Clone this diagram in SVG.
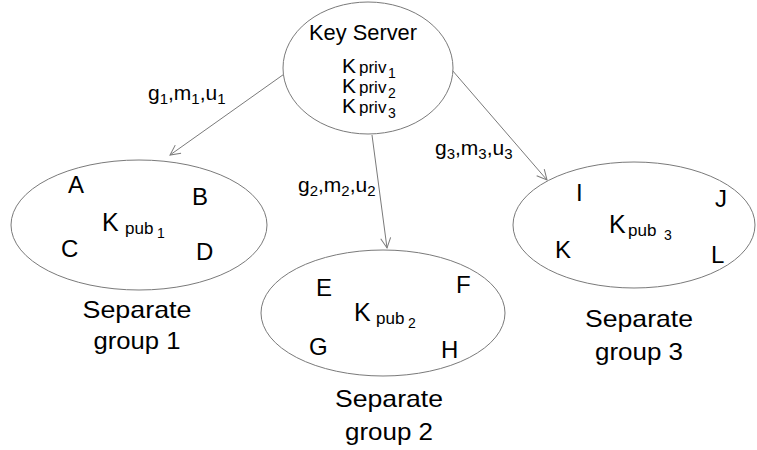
<svg xmlns="http://www.w3.org/2000/svg" width="757" height="450" viewBox="0 0 757 450">
<defs>
<style>
.ell{fill:#fff;stroke:#7a7a7a;stroke-width:1}
.con{stroke:#7a7a7a;stroke-width:1;fill:none;marker-end:url(#arr)}
text{font-family:"Liberation Sans",Arial,sans-serif;fill:#000}
.t{font-size:22px}
.lbl{font-size:24px;text-anchor:middle}
.let{font-size:24px}
.bk{font-size:25px}
.pk{font-size:21px}
.sm{font-size:17px}
.sub{font-size:14px}
.el{font-size:21px}
.es{font-size:15px}
</style>
<marker id="arr" viewBox="0 0 12 12" refX="11" refY="6" markerWidth="12" markerHeight="12" markerUnits="userSpaceOnUse" orient="auto">
<path d="M1,1 L11,6 L1,11" fill="none" stroke="#7a7a7a" stroke-width="1"/>
</marker>
</defs>
<rect width="757" height="450" fill="#fff"/>
<g id="connectors">
<line class="con" x1="287" y1="72" x2="170" y2="155"/>
<line class="con" x1="372" y1="135" x2="387" y2="248"/>
<line class="con" x1="452" y1="70" x2="547" y2="180"/>
<text class="el" x="148" y="100">g<tspan class="es" dy="4">1</tspan><tspan dy="-4">,m</tspan><tspan class="es" dy="4">1</tspan><tspan dy="-4">,u</tspan><tspan class="es" dy="4">1</tspan></text>
<text class="el" x="298" y="192">g<tspan class="es" dy="4">2</tspan><tspan dy="-4">,m</tspan><tspan class="es" dy="4">2</tspan><tspan dy="-4">,u</tspan><tspan class="es" dy="4">2</tspan></text>
<text class="el" x="435" y="155">g<tspan class="es" dy="4">3</tspan><tspan dy="-4">,m</tspan><tspan class="es" dy="4">3</tspan><tspan dy="-4">,u</tspan><tspan class="es" dy="4">3</tspan></text>
</g>
<g id="keyserver">
<ellipse class="ell" cx="368" cy="68" rx="85" ry="66"/>
<text class="t" x="309" y="40" textLength="108" lengthAdjust="spacingAndGlyphs">Key Server</text>
<text class="pk" x="342" y="73">K<tspan class="sm" x="359">priv</tspan><tspan class="sub" x="388" y="78">1</tspan></text>
<text class="pk" x="342" y="93">K<tspan class="sm" x="359">priv</tspan><tspan class="sub" x="388" y="98">2</tspan></text>
<text class="pk" x="342" y="113">K<tspan class="sm" x="359">priv</tspan><tspan class="sub" x="388" y="118">3</tspan></text>
</g>
<g id="group1">
<ellipse class="ell" cx="139" cy="225" rx="128" ry="65"/>
<text class="let" x="68" y="193">A</text>
<text class="let" x="192" y="205">B</text>
<text class="let" x="61" y="257">C</text>
<text class="let" x="196" y="260">D</text>
<text class="bk" x="102" y="231">K<tspan class="sm" x="125" y="234">pub</tspan><tspan class="sub" x="157" y="238">1</tspan></text>
<text class="lbl" x="137" y="318" textLength="109" lengthAdjust="spacingAndGlyphs">Separate</text>
<text class="lbl" x="137" y="349" textLength="87" lengthAdjust="spacingAndGlyphs">group 1</text>
</g>
<g id="group2">
<ellipse class="ell" cx="383" cy="313" rx="122" ry="63"/>
<text class="let" x="316" y="296">E</text>
<text class="let" x="456" y="293">F</text>
<text class="let" x="309" y="355">G</text>
<text class="let" x="441" y="358">H</text>
<text class="bk" x="354" y="321">K<tspan class="sm" x="376" y="324">pub</tspan><tspan class="sub" x="408" y="328">2</tspan></text>
<text class="lbl" x="389" y="407" textLength="108" lengthAdjust="spacingAndGlyphs">Separate</text>
<text class="lbl" x="389" y="440" textLength="88" lengthAdjust="spacingAndGlyphs">group 2</text>
</g>
<g id="group3">
<ellipse class="ell" cx="634" cy="225" rx="121" ry="63"/>
<text class="let" x="576" y="201">I</text>
<text class="let" x="715" y="207">J</text>
<text class="let" x="555" y="258">K</text>
<text class="let" x="711" y="263">L</text>
<text class="bk" x="609" y="233">K<tspan class="sm" x="628" y="236">pub</tspan><tspan class="sub" x="664" y="240">3</tspan></text>
<text class="lbl" x="639" y="327" textLength="108" lengthAdjust="spacingAndGlyphs">Separate</text>
<text class="lbl" x="639" y="360" textLength="88" lengthAdjust="spacingAndGlyphs">group 3</text>
</g>
</svg>
